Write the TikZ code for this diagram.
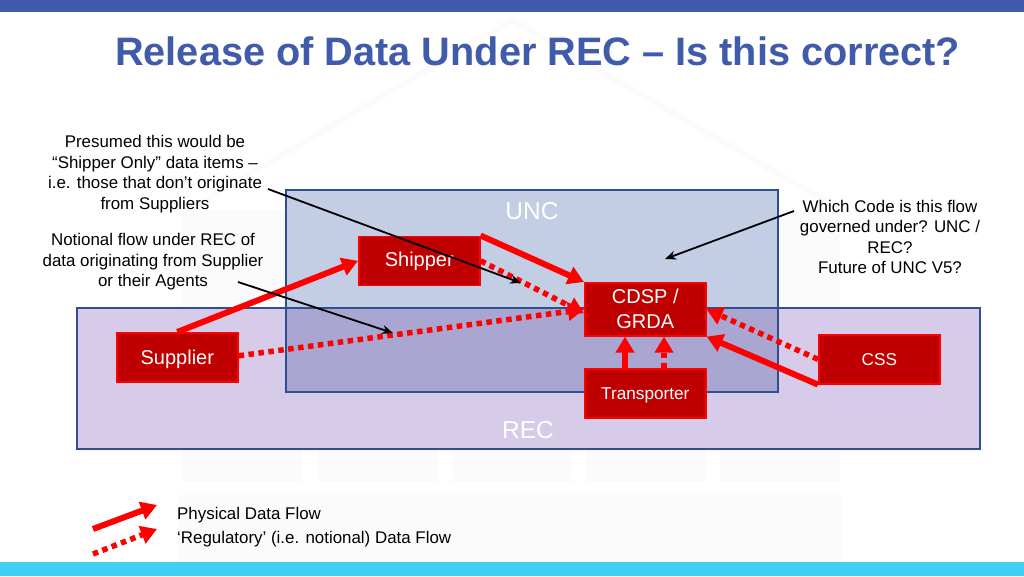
\documentclass[tikz,border=0pt]{standalone}
\usepackage{fontspec}
\setmainfont{Liberation Sans}
\usetikzlibrary{arrows.meta}
\definecolor{barblue}{HTML}{3F5BA9}
\definecolor{barcyan}{HTML}{41CFF4}
\definecolor{frameblue}{HTML}{2F5090}
\definecolor{uncfill}{HTML}{C3CDE3}
\definecolor{recfill}{HTML}{D6CBE9}
\definecolor{bothfill}{HTML}{A9A6D2}
\definecolor{boxred}{HTML}{C00000}
\definecolor{flowred}{HTML}{FF0000}
\definecolor{ghost}{HTML}{FBFBFB}
\newcommand{\lowered}[2]{\raisebox{-#1}[\height][\depth]{#2}}
\tikzset{
 x=1pt,y=-1pt,
 party/.style={draw=flowred,line width=1.6pt,fill=boxred,text=white,align=center,inner sep=0pt,anchor=north west,minimum width=121pt,font=\fontsize{20}{25}\selectfont},
 note/.style={align=center,text=black,inner sep=0pt,font=\fontsize{16.9}{20.5}\selectfont},
 legendtext/.style={anchor=west,inner sep=0pt,text=black,font=\fontsize{16.9}{20}\selectfont},
 codelabel/.style={inner sep=0pt,text=white,font=\fontsize{24.5}{28}\selectfont},
 physical/.style={draw=flowred,line width=6pt,-{Triangle[length=16pt,width=18pt]}},
 regulatory/.style={draw=flowred,line width=5.5pt,dash pattern=on 5.5pt off 4.5pt,-{Triangle[length=16pt,width=18pt]}},
 callout/.style={draw=black,line width=1.8pt,-{Stealth[length=11pt,width=9pt]}},
 frame/.style={draw=frameblue,line width=2.5pt},
}
\begin{document}
\begin{tikzpicture}
\useasboundingbox (0,0) rectangle (1024,576);
\fill[white] (0,0) rectangle (1024,576);
% faint watermark
\draw[ghost,line width=6pt] (180,215) -- (512,20) -- (850,215);
\foreach \a/\b in {182/302,318/438,452/572,586/706,720/840}{
 \fill[ghost] (\a,210) rectangle (\b,482);
}
\fill[ghost] (178,495) rectangle (842,562);
% bars
\fill[barblue] (0,0) rectangle (1024,12);
\fill[barcyan] (0,562) rectangle (1024,576);
\node[anchor=west,inner sep=0pt,text=barblue,font=\bfseries\fontsize{39.7}{44}\selectfont] (title) at (115,51) {Release of Data Under REC – Is this correct?};
% code regions
\fill[uncfill] (286,190) rectangle (778,392);
\fill[recfill] (77,308) rectangle (980,449);
\fill[bothfill] (286,308) rectangle (778,392);
\draw[frame] (286,190) rectangle (778,392);
\draw[frame] (77,308) rectangle (980,449);
\node[codelabel] (unc) at (532,211) {UNC};
\node[codelabel] (rec) at (528,430) {REC};
% parties
\node[party,minimum height=49pt] (supplier) at (116,332) {\lowered{2.5pt}{Supplier}};
\node[party,minimum height=49pt] (shipper) at (358,235.5) {\lowered{1pt}{Shipper}};
\node[party,minimum height=53pt] (cdsp) at (584,282) {CDSP /\\GRDA};
\node[party,minimum height=49pt,font=\fontsize{17.2}{20}\selectfont] (transporter) at (584,368) {\lowered{2pt}{Transporter}};
\node[party,minimum height=49pt,font=\fontsize{17.2}{20}\selectfont] (css) at (818,334) {CSS};
% flows
\draw[physical] (supplier.north) -- (shipper.west);
\draw[regulatory] ([yshift=1.5pt]supplier.east) -- (cdsp.west);
\draw[physical] (shipper.north east) -- (cdsp.north west);
\draw[regulatory] (shipper.east) -- ([yshift=-4pt]cdsp.west);
\draw[physical] (css.south west) -- (cdsp.south east);
\draw[regulatory] (css.west) -- (cdsp.east);
\draw[physical] (transporter.north -| 625,0) -- (cdsp.south -| 625,0);
\draw[regulatory] (transporter.north -| 664,0) -- (cdsp.south -| 664,0);
% notes
\node[note] (n1) at (155,174) {Presumed this would be\\“Shipper Only” data items –\\i.e. those that don’t originate\\from Suppliers};
\node[note] (n2) at (153,262) {Notional flow under REC of\\data originating from Supplier\\or their Agents};
\node[note] (n3) at (890,237) {Which Code is this flow\\governed under? UNC /\\REC?\\Future of UNC V5?};
\coordinate (c1s) at (268,189);
\coordinate (c1e) at (521,283);
\coordinate (c2s) at (238,282);
\coordinate (c2e) at (393,333);
\coordinate (c3s) at (794,211);
\coordinate (c3e) at (665,259);
\draw[callout] (c1s) -- (c1e);
\draw[callout] (c2s) -- (c2e);
\draw[callout] (c3s) -- (c3e);
% legend
\coordinate (l1s) at (93,529);
\coordinate (l1e) at (157,505);
\coordinate (l2s) at (93,554);
\coordinate (l2e) at (157,529);
\draw[physical] (l1s) -- (l1e);
\draw[regulatory] (l2s) -- (l2e);
\node[legendtext] (lt1) at (177,515) {Physical Data Flow};
\node[legendtext] (lt2) at (177,539) {‘Regulatory’ (i.e. notional) Data Flow};
\end{tikzpicture}
\end{document}
